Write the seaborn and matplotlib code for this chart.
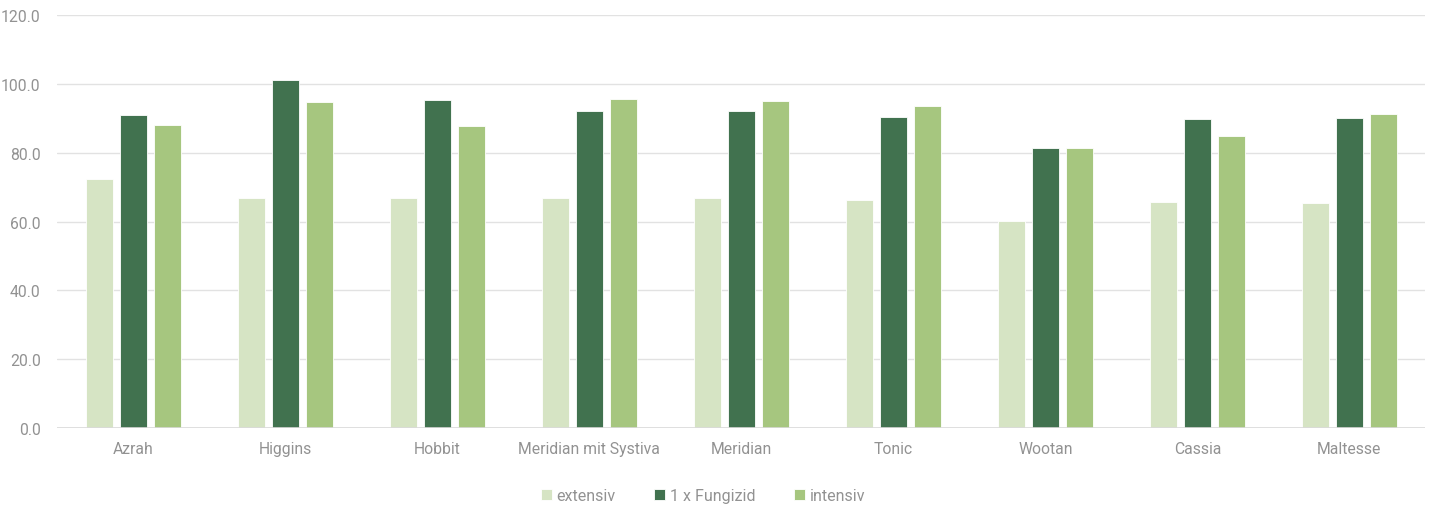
import numpy as np
import pandas as pd
import matplotlib
matplotlib.use("Agg")
import matplotlib.pyplot as plt
import seaborn as sns

# values
SORTEN    = ["Azrah", "Higgins", "Hobbit", "Meridian mit Systiva", "Meridian",
             "Tonic", "Wootan", "Cassia", "Maltesse"]
EXTENSIV  = [72.4, 66.9, 67.0, 66.9, 67.0, 66.3, 60.2, 65.8, 65.5]
FUNGIZID  = [91.0, 101.2, 95.3, 92.2, 92.1, 90.4, 81.4, 89.8, 90.2]
INTENSIV  = [88.1, 94.7, 87.8, 95.6, 95.2, 93.6, 81.3, 84.9, 91.2]
SERIES    = ["extensiv", "1 x Fungizid", "intensiv"]
COLORS    = ["#D6E4C4", "#41724F", "#A6C67F"]

df = pd.DataFrame({"sorte": SORTEN, SERIES[0]: EXTENSIV,
                   SERIES[1]: FUNGIZID, SERIES[2]: INTENSIV})
df = df.melt(id_vars="sorte", var_name="variante", value_name="ertrag")

sns.set_theme(style="white")
plt.rcParams["font.family"] = ["Roboto", "DejaVu Sans"]
TXT = "#929292"

fig, ax = plt.subplots(figsize=(14.34, 5.06), dpi=100)
fig.subplots_adjust(left=0.04, right=0.994, top=0.968, bottom=0.152)

sns.barplot(data=df, x="sorte", y="ertrag", hue="variante", hue_order=SERIES,
            palette=COLORS, width=0.67, gap=0.2, saturation=1, ax=ax,
            edgecolor="white", linewidth=0.6, zorder=3)

ax.set_xlim(-0.5, len(SORTEN) - 0.5)
ax.set_ylim(0, 120)
ax.set_yticks(np.arange(0, 121, 20))
ax.set_yticklabels([f"{v:.1f}" for v in np.arange(0, 121, 20)])
ax.yaxis.grid(True, color="#E2E2E2", linewidth=1, zorder=0)
ax.set_axisbelow(True)
for s in ax.spines.values():
    s.set_visible(False)
ax.axhline(0, color="#DADADA", linewidth=1.2, zorder=4)
ax.tick_params(axis="both", length=0, labelsize=11.3, labelcolor=TXT)
ax.tick_params(axis="x", pad=9)
ax.tick_params(axis="y", pad=12)
ax.set_xlabel("")
ax.set_ylabel("")

# legend sits a little left of the plot centre in the original
leg = ax.legend(loc="upper center", bbox_to_anchor=(0.472, -0.11), ncol=3,
                frameon=False, fontsize=11.5, handlelength=0.7, handleheight=0.7,
                handletextpad=0.3, columnspacing=2.4)
for t in leg.get_texts():
    t.set_color(TXT)

fig.savefig("out.png", dpi=100)
